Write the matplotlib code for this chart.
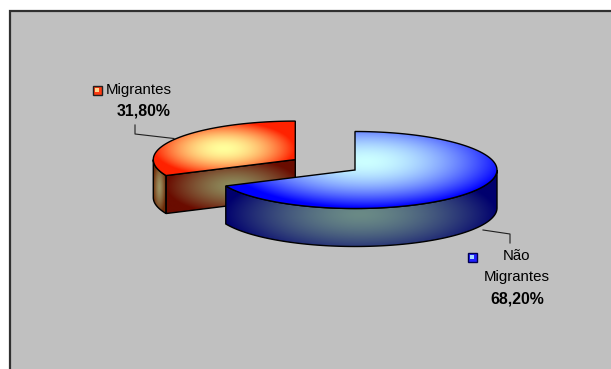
import numpy as np
import matplotlib
matplotlib.use("Agg")
import matplotlib.pyplot as plt
from matplotlib.patches import Polygon, Rectangle
from matplotlib.colors import to_rgb

plt.rcParams['font.family'] = ['Liberation Sans', 'DejaVu Sans']

# share of population (%)
labels = ["Não\nMigrantes", "Migrantes"]
values = [68.2, 31.8]
explode = [0.0, 0.5]

# pie layout in pixel space
cx, cy = 355, 170       # centre of the top ellipse
ra, rb = 142, 38.5      # ellipse semi-axes
depth = 38              # thickness of the pie

fig = plt.figure(figsize=(6.11, 3.69), dpi=100)
fig.patch.set_facecolor("white")
ax = fig.add_axes([0, 0, 1, 1])
ax.set_axis_off()

ax.add_patch(Rectangle((10, 10.5), 620, 380, fc="#c0c0c0", ec="#303030", lw=1.6, zorder=0))


def arc(c, t0, t1, dy=0.0, n=120):
    t = np.radians(np.linspace(t0, t1, n))
    return np.column_stack([c[0] + ra * np.sin(t), c[1] - rb * np.cos(t) + dy])


def grad_fill(verts, c_in, c_out, z, focus=None, power=1.0):
    verts = np.asarray(verts)
    x0, y0 = verts.min(axis=0)
    x1, y1 = verts.max(axis=0)
    fx, fy = focus if focus is not None else ((x0 + x1) / 2, (y0 + y1) / 2)
    xs = np.linspace(x0, x1, 240)
    ys = np.linspace(y0, y1, 120)
    X, Y = np.meshgrid(xs, ys)
    hx = max(fx - x0, x1 - fx)
    hy = max(fy - y0, y1 - fy)
    t = np.clip(np.sqrt(((X - fx) / hx) ** 2 + ((Y - fy) / hy) ** 2), 0, 1) ** power
    a = np.array(to_rgb(c_in))
    b = np.array(to_rgb(c_out))
    img = a * (1 - t[..., None]) + b * t[..., None]
    im = ax.imshow(img, extent=(x0, x1, y1, y0), origin="upper", aspect="auto",
                   interpolation="bilinear", zorder=z)
    edge = Polygon(verts, closed=True, fc="none", ec="black", lw=1.0, zorder=z + 0.1)
    ax.add_patch(edge)
    im.set_clip_path(edge)


# slice angles, clockwise from 12 o'clock
bounds = np.concatenate([[0], np.cumsum(values) / np.sum(values) * 360])
cut = bounds[1]

# Migrantes: exploded slice, drawn first since it sits behind
mid = np.radians((bounds[1] + bounds[2]) / 2)
rc = (cx + explode[1] * ra * np.sin(mid), cy - explode[1] * rb * np.cos(mid))
p_cut = arc(rc, cut, cut, n=1)[0]
wall = np.vstack([arc(rc, cut, 270), arc(rc, 270, cut, dy=depth)])
grad_fill(wall, "#9c9262", "#6e2a08", 2, power=1.4)
face = np.array([rc, p_cut, p_cut + [0, depth], (rc[0], rc[1] + depth)])
grad_fill(face, "#8e8e5e", "#6a0c00", 2, focus=(rc[0] - 62, rc[1] + 26), power=1.4)
top = np.vstack([[rc], arc(rc, cut, 360)])
grad_fill(top, "#ffff9c", "#ff2200", 3, power=1.8)

# Não Migrantes
bc = (cx, cy)
wall = np.vstack([arc(bc, 90, cut), arc(bc, cut, 90, dy=depth)])
grad_fill(wall, "#6a8a86", "#00006e", 4, focus=(cx + 5, cy + 45), power=1.6)
top = np.vstack([[bc], arc(bc, 0, cut)])
grad_fill(top, "#ccffff", "#0000ff", 5, focus=(cx + 10, cy - 8), power=1.8)

# data labels
pct = [f"{v:.2f}%".replace(".", ",") for v in values]
fs = 10.8

ax.add_patch(Rectangle((92.5, 85.5), 9, 9, fc="#ff3a10", ec="#202020", lw=1.0, zorder=6))
ax.add_patch(Rectangle((95, 88), 4, 4, fc="#ffd28c", ec="none", zorder=7))
ax.text(106, 90, labels[1], fontsize=fs, ha="left", va="center", zorder=6)
ax.text(144, 111, pct[1], fontsize=11.4, fontweight="bold", ha="center", va="center", zorder=6)
ax.plot([135, 135, 174], [125, 134, 138.5], color="#202020", lw=0.8, zorder=6)

ax.add_patch(Rectangle((467.5, 252.5), 9, 9, fc="#2020ff", ec="#000050", lw=1.0, zorder=6))
ax.add_patch(Rectangle((470, 255), 4, 4, fc="#a8d8ff", ec="none", zorder=7))
for i, line in enumerate(labels[0].split("\n")):
    ax.text(516.5, 256 + 21 * i, line, fontsize=fs, ha="center", va="center", zorder=6)
ax.text(517, 299, pct[0], fontsize=11.4, fontweight="bold", ha="center", va="center", zorder=6)
ax.plot([483, 510, 510], [230, 234, 243], color="#202020", lw=0.8, zorder=3.5)

ax.set_xlim(0, 611)
ax.set_ylim(369, 0)
fig.savefig("out.png", dpi=100, facecolor=fig.get_facecolor())
